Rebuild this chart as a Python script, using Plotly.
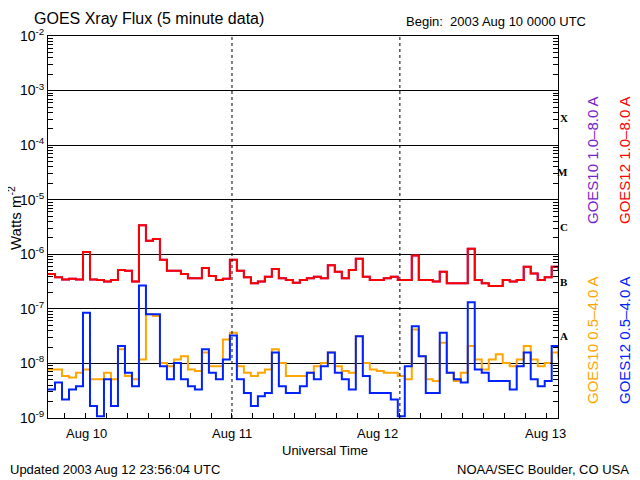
import plotly.graph_objects as go

# hours since 2003 Aug 10 00:00 UTC for each sample (hourly readings)
hours = [k - 2.3 for k in range(74)]

goes12_long_log = [-6.36,-6.42,-6.46,-6.45,-6.46,-5.96,-6.46,-6.47,-6.50,-6.47,
 -6.29,-6.30,-6.50,-5.47,-5.75,-5.72,-6.10,-6.30,-6.30,-6.36,
 -6.44,-6.44,-6.25,-6.40,-6.47,-6.45,-6.10,-6.30,-6.42,-6.53,
 -6.50,-6.41,-6.27,-6.44,-6.47,-6.52,-6.47,-6.44,-6.41,-6.44,
 -6.20,-6.32,-6.44,-6.29,-6.08,-6.41,-6.47,-6.47,-6.44,-6.41,
 -6.47,-6.47,-6.02,-6.47,-6.47,-6.50,-6.32,-6.53,-6.53,-6.53,
 -5.90,-6.47,-6.53,-6.58,-6.58,-6.47,-6.50,-6.47,-6.23,-6.35,
 -6.47,-6.42,-6.23,-6.29]
goes10_long_log = list(goes12_long_log)

goes12_short_log = [-8.48,-8.35,-8.66,-8.48,-8.42,-7.07,-8.78,-8.97,-8.29,-8.78,
 -7.68,-8.17,-8.42,-6.57,-7.10,-7.10,-8.05,-8.29,-7.99,-8.29,
 -8.42,-8.48,-7.74,-8.17,-8.29,-7.93,-7.49,-8.29,-8.54,-8.78,
 -8.60,-8.54,-7.80,-8.42,-8.54,-8.54,-8.42,-8.17,-8.29,-8.05,
 -7.80,-8.17,-8.29,-8.48,-7.50,-8.23,-8.54,-8.54,-8.54,-8.66,
 -8.97,-8.05,-7.32,-7.87,-8.54,-8.54,-7.44,-8.17,-8.29,-8.35,
 -6.88,-8.11,-8.17,-8.32,-8.32,-8.32,-8.48,-8.05,-7.80,-8.29,
 -8.42,-8.32,-7.68,-7.93]

goes10_short_log = [-8.11,-8.11,-8.23,-8.26,-8.17,-8.11,-8.29,-8.29,-8.17,-8.29,
 -7.74,-8.23,-8.29,-7.93,-7.10,-7.13,-7.99,-8.05,-7.93,-7.87,
 -8.11,-8.14,-7.80,-8.05,-8.05,-7.56,-7.44,-8.05,-8.17,-8.23,
 -8.17,-8.11,-7.74,-7.99,-8.23,-8.23,-8.23,-8.17,-8.05,-7.99,
 -7.80,-8.05,-8.14,-8.17,-7.50,-7.99,-8.11,-8.14,-8.17,-8.17,
 -8.23,-8.29,-7.38,-7.87,-8.29,-8.32,-7.62,-8.17,-8.32,-8.17,
 -7.68,-7.93,-8.11,-7.93,-7.83,-7.99,-8.05,-7.93,-7.68,-7.93,
 -8.05,-7.99,-7.80,-7.87]

day_labels = ["Aug 10", "Aug 11", "Aug 12", "Aug 13"]
day_hours = [0, 24, 48, 72]
class_labels = ["X", "M", "C", "B", "A"]
class_pos = [-3.5, -4.5, -5.5, -6.5, -7.5]
decades = [-9, -8, -7, -6, -5, -4, -3, -2]

F = "Liberation Sans"
O = 8  # page body margin offset
W, H = 640 - O, 480 - O
L, R, T, B = 48 - O, 558 - O, 36 - O, 418 - O
def px2x(px): return (px - O - L) / (R - L)
def py2y(py): return (B - (py - O)) / (B - T)

fig = go.Figure()
series = [
    (goes10_short_log, "#FFA500"),
    (goes12_short_log, "#0022FF"),
    (goes10_long_log, "#7722CC"),
    (goes12_long_log, "#FF0000"),
]
for vals, col in series:
    fig.add_trace(go.Scatter(x=hours, y=[10 ** v for v in vals], mode="lines",
                             line=dict(color=col, width=2, shape="hv"), showlegend=False))

XR = [-2.3, 70.6]
fig.update_layout(
    width=W, height=H, margin=dict(l=L, r=W - R, t=T, b=H - B, autoexpand=False),
    paper_bgcolor="white", plot_bgcolor="white",
    font=dict(family=F, size=13, color="black"),
    xaxis=dict(range=XR, showgrid=False, zeroline=False, showline=True, linecolor="black",
               linewidth=1, mirror=True, ticks="inside", tickvals=list(range(0, 72, 3)),
               ticklen=5, tickcolor="black", showticklabels=False, automargin=False),
    yaxis=dict(type="log", range=[-9, -2], showgrid=True, gridcolor="black", gridwidth=1,
               showline=True, linecolor="black", linewidth=1, mirror="ticks",
               ticks="inside", ticklen=8, tickcolor="black", automargin=False,
               tickvals=[10 ** d for d in decades],
               ticktext=["10<sup>%d</sup>" % d for d in decades],
               tickfont=dict(size=14), ticklabelstandoff=0,
               minor=dict(ticks="inside", ticklen=5, tickcolor="black", dtick="D1", showgrid=False)),
)
for h in [24, 48]:
    fig.add_shape(type="line", x0=h, x1=h, y0=0, y1=1, yref="paper",
                  line=dict(color="black", width=1, dash="dot"))
for lab, h in zip(day_labels, day_hours):
    fig.add_annotation(x=(h - XR[0]) / (XR[1] - XR[0]), xref="paper", y=py2y(433), yref="paper",
                       yanchor="middle", text=lab, showarrow=False, font=dict(size=13))
for lab, p in zip(class_labels, class_pos):
    fig.add_annotation(x=px2x(570), xref="paper", y=p, yref="y", text="<b>%s</b>" % lab,
                       showarrow=False, font=dict(family="Liberation Serif", size=11))
side = [
    ("GOES10 1.0\u20138.0 A", "#7722CC", 592, 160),
    ("GOES12 1.0\u20138.0 A", "#FF0000", 624, 160),
    ("GOES10 0.5\u20134.0 A", "#FFA500", 592, 340),
    ("GOES12 0.5\u20134.0 A", "#0022FF", 624, 340),
    ("Watts m<sup>-2</sup>", "black", 14, 218),
]
for t, c, px, py in side:
    fig.add_annotation(x=px2x(px), y=py2y(py), xref="paper", yref="paper", xanchor="center",
                       yanchor="middle", text=t, textangle=-90, showarrow=False,
                       font=dict(size=15, color=c), borderpad=0)

def txt(t, px, py, size, anchor="left"):
    fig.add_annotation(x=px2x(px), y=py2y(py), xref="paper", yref="paper", xanchor=anchor,
                       yanchor="middle", text=t, showarrow=False, font=dict(size=size),
                       borderpad=0)

txt("GOES Xray Flux (5 minute data)", 33, 18, 16)
txt("Begin:  2003 Aug 10 0000 UTC", 405, 22, 13)
txt("Universal Time", 325, 450, 13, "center")
txt("Updated 2003 Aug 12 23:56:04 UTC", 9, 469, 13)
txt("NOAA/SEC Boulder, CO USA", 630, 469, 13, "right")

fig.write_html("out.html")
